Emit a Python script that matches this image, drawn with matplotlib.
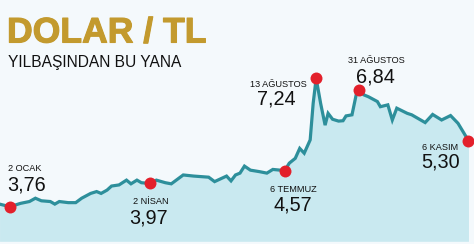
import matplotlib.pyplot as plt
import matplotlib.patheffects as pe

# Yilbasindan bu yana dolar/TL (gun indeksi, grafikten okunan kur)
gun = [-7, 0, 7, 13, 17, 21, 27, 30, 33, 39, 44, 48, 54, 58, 61, 65, 68, 73,
       78, 81, 85, 88, 94, 98, 104, 108, 116, 123, 133, 137, 145, 148, 151,
       154, 157, 161, 167, 172, 176, 181, 184, 187, 191, 194, 197, 201, 203,
       205, 208, 211, 213, 216, 220, 223, 225, 229, 232, 234, 237, 240, 246,
       248, 253, 256, 259, 266, 269, 278, 283, 289, 295, 300, 307]
kur = [3.83, 3.76, 3.85, 3.90, 3.99, 3.92, 3.90, 3.83, 3.90, 3.87, 3.87, 3.99,
       4.12, 4.17, 4.12, 4.21, 4.32, 4.35, 4.48, 4.38, 4.48, 4.41, 4.39, 4.48,
       4.41, 4.38, 4.62, 4.59, 4.56, 4.44, 4.59, 4.46, 4.62, 4.67, 4.86, 4.75,
       4.71, 4.67, 4.77, 4.75, 4.74, 4.94, 5.07, 5.34, 5.21, 5.57, 6.56, 7.24,
       6.56, 5.97, 6.29, 6.13, 6.08, 6.09, 6.22, 6.25, 6.83, 6.92, 6.79, 6.74,
       6.61, 6.47, 6.52, 6.11, 6.43, 6.29, 6.25, 6.04, 6.26, 6.11, 6.23, 6.02,
       5.55]

# isaretli noktalar
nokta_gun = [0, 94, 184, 205, 234, 307]
nokta_tarih = ['2 OCAK', '2 NİSAN', '6 TEMMUZ', '13 AĞUSTOS', '31 AĞUSTOS', '6 KASIM']
nokta_deger = ['3,76', '3,97', '4,57', '7,24', '6,84', '5,30']

# etiket yerlesimi (piksel kaydirma: tarih dx, dy, deger dx, dy, hizalama)
yerlesim = [(-2, 36, -3, 16, 'left'),
            (0, -20.5, -2, -40.5, 'center'),
            (9, -21.5, 8.5, -39.5, 'center'),
            (-38, -8.7, -39.5, -26.7, 'center'),
            (17, 27, 16, 8, 'center'),
            (-28, -9.3, -28, -27.3, 'center')]

bg = '#f4f9fc'
fill_col = '#c9e9f0'
line_col = '#2d8f9b'
dot_col = '#e3202b'
gold = '#c39a2e'

plt.rcParams['font.family'] = ['Liberation Sans', 'DejaVu Sans']

fig = plt.figure(figsize=(4.74, 2.44), dpi=100)
fig.patch.set_facecolor(bg)
ax = fig.add_axes([0, 0, 1, 1])
ax.set_facecolor(bg)
ax.set_xlim(-6.7, 310.7)
ax.set_ylim(2.749, 9.362)
ax.axis('off')

# alan ve cizgi
ax.fill_between(gun, kur, 2.822, color=fill_col, lw=0, zorder=1)
ax.plot(gun, kur, color=line_col, lw=2.3, solid_joinstyle='miter', zorder=2)

for g, tarih, deger, (tdx, tdy, ddx, ddy, ha) in zip(nokta_gun, nokta_tarih,
                                                     nokta_deger, yerlesim):
    y = kur[gun.index(g)]
    ax.plot(g, y, 'o', color=dot_col, ms=8.6, mec='none', zorder=3,
            clip_on=False)
    ax.annotate(tarih, (g, y), xytext=(tdx, tdy), textcoords='offset pixels',
                ha=ha, va='baseline', fontsize=6.6, color='#111111')
    ax.annotate(deger, (g, y), xytext=(ddx, ddy), textcoords='offset pixels',
                ha=ha, va='baseline', fontsize=14.3, color='#111111')

# basliklar
fig.text(7 / 474, 1 - 42.5 / 244, 'DOLAR / TL', fontsize=25.6, fontweight='bold',
         color=gold, va='baseline', ha='left',
         path_effects=[pe.withStroke(linewidth=0.8, foreground=gold)])
fig.text(8 / 474, 1 - 67 / 244, 'YILBAŞINDAN BU YANA', fontsize=11.2,
         color='#111111', va='baseline', ha='left')

fig.savefig('out.png', dpi=100, facecolor=bg)
